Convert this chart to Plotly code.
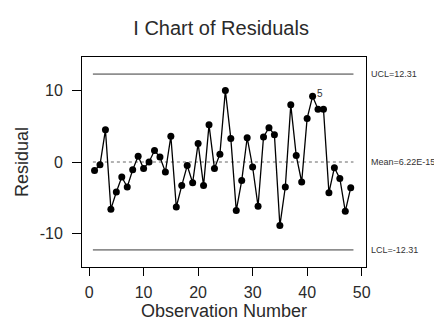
import plotly.graph_objects as go

obs = list(range(1, 49))
residuals = [
    -1.2, -0.4, 4.5, -6.6, -4.2, -2.1, -3.5, -1.1, 0.8, -0.9,
    0.0, 1.6, 0.7, -1.4, 3.6, -6.3, -3.3, -0.5, -2.9, 2.6,
    -3.3, 5.2, -0.9, 1.1, 10.0, 3.3, -6.8, -2.6, 3.4, -0.7,
    -6.2, 3.5, 4.8, 3.8, -8.9, -3.5, 8.0, 0.9, -2.8, 6.1,
    9.2, 7.4, 7.4, -4.3, -0.8, -2.3, -6.9, -3.6,
]
ucl = 12.31
center = 0.0
lcl = -12.31
limit_labels = ["UCL=12.31", "Mean=6.22E-15", "LCL=-12.31"]
flag_obs = 41
flag_text = "5"
x_ticks = [0, 10, 20, 30, 40, 50]
x_tick_text = ["0", "10", "20", "30", "40", "50"]
y_ticks = [-10, 0, 10]
y_tick_text = ["-10", "0", "10"]

FONT = "Liberation Sans, Arial, sans-serif"
TXT = "#2a2a2a"
xs = [obs[0] - 0.3, obs[-1] + 0.5]

fig = go.Figure()
fig.add_trace(go.Scatter(x=xs, y=[ucl, ucl], mode="lines",
                         line=dict(color="#3a3a3a", width=1), hoverinfo="skip"))
fig.add_trace(go.Scatter(x=xs, y=[lcl, lcl], mode="lines",
                         line=dict(color="#3a3a3a", width=1), hoverinfo="skip"))
fig.add_trace(go.Scatter(x=xs, y=[center, center], mode="lines",
                         line=dict(color="#666666", width=1, dash="dot"), hoverinfo="skip"))
fig.add_trace(go.Scatter(x=obs, y=residuals, mode="lines+markers",
                         line=dict(color="black", width=1.3),
                         marker=dict(color="black", size=7)))

for val, txt in zip([ucl, center, lcl], limit_labels):
    fig.add_annotation(x=1, xref="paper", xanchor="left", xshift=3,
                       y=val, yref="y", text=txt, showarrow=False,
                       font=dict(family=FONT, size=9, color="#333333"))

fi = obs.index(flag_obs)
fig.add_annotation(x=obs[fi], y=residuals[fi], text=flag_text, showarrow=False,
                   xshift=7, yshift=3, font=dict(family=FONT, size=10, color="#333333"))

fig.update_layout(
    width=434, height=317,
    margin=dict(l=74, r=76, t=49, b=58, autoexpand=False),
    paper_bgcolor="white", plot_bgcolor="white",
    showlegend=False,
    title=dict(text="I Chart of Residuals", x=0.491, xanchor="center",
               y=0.937, yanchor="middle", yref="container",
               font=dict(family=FONT, size=20, color=TXT)),
    font=dict(family=FONT, size=16, color=TXT),
)
fig.update_xaxes(range=[-1.3, 50.8], tickvals=x_ticks, ticktext=x_tick_text,
                 ticks="outside", ticklen=8, tickcolor="black",
                 showline=True, linecolor="black", linewidth=1, mirror=True,
                 showgrid=False, zeroline=False, automargin=False,
                 ticklabelstandoff=3,
                 title=dict(text="Observation Number", standoff=4,
                            font=dict(size=18)))
fig.update_yaxes(range=[-14.7, 14.7], tickvals=y_ticks, ticktext=y_tick_text,
                 ticks="outside", ticklen=9, tickcolor="black",
                 showline=True, linecolor="black", linewidth=1, mirror=True,
                 showgrid=False, zeroline=False, automargin=False,
                 ticklabelstandoff=6,
                 title=dict(text="Residual", standoff=6, font=dict(size=18)))

fig.write_html("out.html")
